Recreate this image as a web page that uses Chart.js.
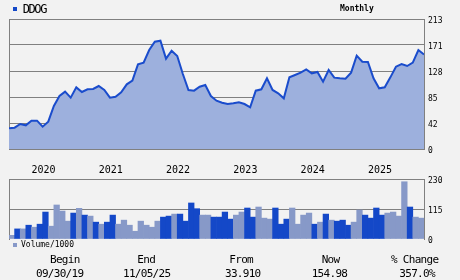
<!DOCTYPE html>
<html>
<head>
<meta charset="utf-8">
<script src="https://cdn.jsdelivr.net/npm/chart.js@4.4.1/dist/chart.umd.min.js"></script>
<style>
html,body{margin:0;padding:0;background:#f2f2f2;width:460px;height:280px;overflow:hidden;}
#wrap{position:relative;width:460px;height:280px;background:#f2f2f2;}
canvas{position:absolute;left:0;}
.t{position:absolute;font-family:'DejaVu Sans Mono',monospace;color:#000;white-space:pre;}
.sq{position:absolute;width:4px;height:4px;}
</style>
</head>
<body>
<div id="wrap">
  <canvas id="price" width="460" height="185" style="top:0;width:460px;height:185px"></canvas>
  <canvas id="vol" width="460" height="80" style="top:170px;width:460px;height:80px"></canvas>
  <div class="sq" style="left:13px;top:7px;background:#1448c8"></div>
  <div class="t" id="ticker" style="left:22.7px;top:2.8px;font-size:12px;line-height:12px;letter-spacing:-1.4px"></div>
  <div class="t" id="period" style="left:340px;top:5.3px;font-size:8px;line-height:8px;font-weight:bold"></div>
  <div class="sq" style="left:13px;top:243px;background:#8799c8"></div>
  <div class="t" id="volLabel" style="left:21px;top:241px;font-size:8px;line-height:8px"></div>
</div>
<script>
// ---- data ----
const tickerName = 'DDOG';
const periodName = 'Monthly';
const volumeLegend = 'Volume/1000';

// monthly closes, Sep 2019 .. Nov 2025
const priceClose = [
  33.9, 34.9, 41.0, 38.8, 46.4, 46.4, 36.6, 44.8, 70.5, 86.8,
  93.9, 84.1, 101.0, 93.4, 97.8, 98.3, 103.2, 96.7, 84.1, 85.7,
  92.8, 106.0, 112.0, 138.7, 141.5, 162.2, 175.9, 177.5, 148.0, 161.1,
  152.4, 122.9, 96.7, 95.6, 102.1, 104.9, 86.8, 79.2, 75.9, 73.7,
  74.8, 76.5, 73.7, 68.3, 95.6, 97.8, 115.8, 96.7, 91.2, 83.0,
  117.4, 121.2, 125.1, 130.5, 124.0, 126.2, 110.3, 129.4, 116.9, 115.8,
  115.2, 125.1, 152.9, 143.1, 142.6, 115.8, 99.4, 101.0, 117.4, 134.9,
  139.3, 136.0, 141.5, 162.2, 155.0
];

// monthly volume / 1000, Sep 2019 .. Oct 2025
const volume = [
  14, 38.7, 38.7, 52.9, 45.2, 56.8, 103.3, 49.1, 130.4, 107.1,
  68.4, 99.4, 117.5, 91.6, 87.8, 64.6, 56.8, 64.6, 91.6, 56.8,
  72.3, 52.9, 29.7, 68.4, 52.9, 45.2, 68.4, 83.9, 87.8, 95.5,
  95.5, 68.4, 138.1, 116.2, 91.6, 91.6, 83.9, 83.9, 103.3, 76.2,
  91.6, 103.3, 118.8, 83.9, 122.6, 80.0, 76.2, 118.8, 56.8, 76.2,
  118.8, 56.8, 91.6, 99.4, 56.8, 64.6, 95.5, 72.3, 68.4, 72.3,
  52.9, 64.6, 111.0, 91.6, 80.0, 118.8, 91.6, 99.4, 103.3, 87.8,
  219.5, 122.6, 83.9, 80.0
];
// 1 = dark bar, 0 = light bar
const volumeDark = [
  0,1,0,1,0,1,1,0,0,0,
  0,1,0,1,0,1,0,1,1,0,
  0,0,0,0,0,0,0,1,1,0,
  1,1,1,1,0,0,1,1,1,1,
  0,0,1,1,0,0,0,1,1,1,
  0,0,0,0,1,0,1,0,1,1,
  1,0,0,1,1,1,1,0,0,0,
  0,1,0,0
];

const yearLabels = ['2020','2021','2022','2023','2024','2025'];
const yearStartIndex = [4, 16, 28, 40, 52, 64];
const priceTickValues = [0, 42.6, 85.2, 127.8, 170.4, 213];
const priceTickLabels = ['0','42','85','128','171','213'];
const volumeTickValues = [0, 115, 230];
const volumeTickLabels = ['0','115','230'];
const summaryHeads = ['Begin','End','From','Now','% Change'];
const summaryValues = ['09/30/19','11/05/25','33.910','154.98','357.0%'];

// ---- text ----
document.getElementById('ticker').textContent = tickerName;
document.getElementById('period').textContent = periodName;
document.getElementById('volLabel').textContent = volumeLegend;
const headLeft = [50, 137.3, 229.3, 321.7, 391];
const valLeft = [36, 123, 225, 311.7, 399.3];
const wrap = document.getElementById('wrap');
summaryHeads.forEach((h, i) => {
  const d = document.createElement('div');
  d.className = 't';
  d.style.cssText = `left:${headLeft[i]}px;top:253.7px;font-size:11px;line-height:11px;letter-spacing:-0.7px`;
  d.textContent = h;
  wrap.appendChild(d);
  const e = document.createElement('div');
  e.className = 't';
  e.style.cssText = `left:${valLeft[i]}px;top:268px;font-size:11px;line-height:11px;letter-spacing:-0.7px`;
  e.textContent = summaryValues[i];
  wrap.appendChild(e);
});

// ---- charts ----
const GRID = '#808080';
const DARK = '#1448c8';
const LIGHT = '#8799c8';
const tickFont = {family: 'DejaVu Sans Mono', size: 8};

const borderAxis = {
  type: 'linear', position: 'left', min: 0, max: 1,
  ticks: {display: false},
  grid: {display: false, drawTicks: false},
  border: {display: true, color: GRID, width: 1},
  afterFit: s => { s.width = 0; }
};

new Chart(document.getElementById('price'), {
  type: 'line',
  data: {
    datasets: [{
      label: tickerName,
      data: priceClose.map((v, i) => ({x: i, y: v})),
      borderColor: '#1a4ccc',
      borderWidth: 2,
      backgroundColor: '#9db0dd',
      fill: 'origin',
      pointRadius: 0,
      tension: 0
    }]
  },
  options: {
    responsive: false,
    animation: false,
    devicePixelRatio: 1,
    layout: {padding: {left: 9, top: 19, right: 0, bottom: 0}},
    plugins: {legend: {display: false}, tooltip: {enabled: false}},
    scales: {
      x: {
        type: 'linear', position: 'bottom', min: 0, max: priceClose.length - 1, offset: false,
        afterBuildTicks: s => { s.ticks = yearStartIndex.map(v => ({value: v})); },
        afterFit: s => { s.height = 36; },
        ticks: {
          callback: (v, i) => yearLabels[i],
          align: 'start', maxRotation: 0, autoSkip: false, padding: 15,
          color: '#000', font: {family: 'DejaVu Sans Mono', size: 10}
        },
        grid: {display: false, drawTicks: false},
        border: {display: true, color: GRID, width: 1}
      },
      y: {
        type: 'linear', position: 'right', min: 0, max: 213,
        afterBuildTicks: s => { s.ticks = priceTickValues.map(v => ({value: v})); },
        afterFit: s => { s.width = 36; },
        ticks: {
          callback: (v, i) => priceTickLabels[i],
          padding: 4, labelOffset: 2, color: '#000', font: tickFont, autoSkip: false
        },
        grid: {color: GRID, lineWidth: 1, drawTicks: false},
        border: {display: true, color: GRID, width: 1}
      },
      yl: borderAxis
    }
  }
});

new Chart(document.getElementById('vol'), {
  type: 'bar',
  data: {
    datasets: [{
      label: volumeLegend,
      data: volume.map((v, i) => ({x: i + 0.5, y: v})),
      backgroundColor: volumeDark.map(d => d ? DARK : LIGHT),
      borderWidth: 0,
      barPercentage: 1,
      categoryPercentage: 1
    }]
  },
  options: {
    responsive: false,
    animation: false,
    devicePixelRatio: 1,
    layout: {padding: {left: 9, top: 9, right: 0, bottom: 11}},
    plugins: {legend: {display: false}, tooltip: {enabled: false}},
    scales: {
      x: {type: 'linear', min: 0, max: volume.length, offset: false, display: false},
      y: {
        type: 'linear', position: 'right', min: 0, max: 230,
        afterBuildTicks: s => { s.ticks = volumeTickValues.map(v => ({value: v})); },
        afterFit: s => { s.width = 36; },
        ticks: {
          callback: (v, i) => volumeTickLabels[i],
          padding: 4, labelOffset: 2, color: '#000', font: tickFont, autoSkip: false
        },
        grid: {color: c => c.tick && c.tick.value === 0 ? 'rgba(0,0,0,0)' : GRID, lineWidth: 1, drawTicks: false},
        border: {display: true, color: GRID, width: 1}
      },
      yl: borderAxis
    }
  }
});
</script>
</body>
</html>
